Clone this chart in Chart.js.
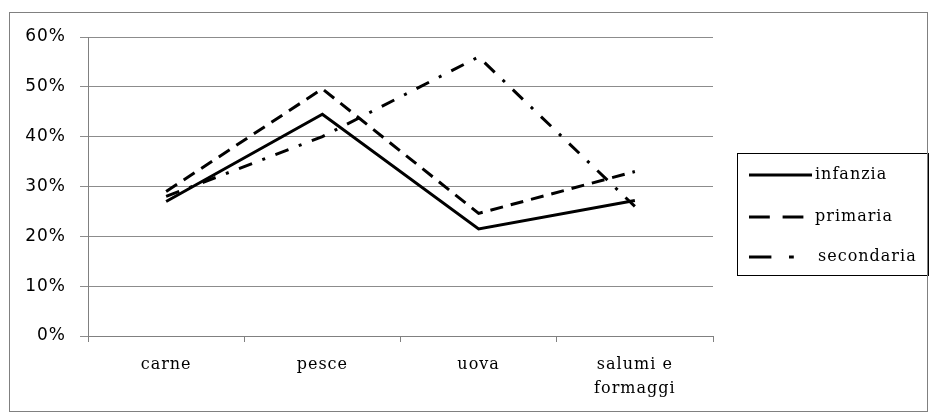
<!DOCTYPE html>
<html>
<head>
<meta charset="utf-8">
<script src="https://cdn.jsdelivr.net/npm/chart.js@4"></script>
<style>
    body { margin: 0; background: #fff; }
    #wrap { position: relative; width: 931px; height: 415px; }
    #frame { position: absolute; left: 9px; top: 12px; width: 919px; height: 400px; border: 1px solid #808080; box-sizing: border-box; pointer-events: none; }
</style>
</head>
<body>
<div id="wrap">
    <canvas id="chart" width="931" height="415"></canvas>
    <div id="frame"></div>
</div>
<script>
const categories = ['carne', 'pesce', 'uova', ['salumi e', 'formaggi']];
const infanzia = [27, 44.5, 21.5, 27.2];
const primaria = [29, 49.6, 24.6, 33];
const secondaria = [28, 40, 56, 26];
const yTicks = [0, 10, 20, 30, 40, 50, 60];

// the text in the picture is spaced out a bit wider than normal
const spacing = {
    id: 'spacing',
    beforeLayout(chart) { chart.ctx.letterSpacing = '1px'; },
    beforeDraw(chart) { chart.ctx.letterSpacing = '1px'; }
};

// legend drawn by hand so it looks like the boxed one in the picture
const boxLegend = {
    id: 'boxLegend',
    afterDraw(chart) {
        const ctx = chart.ctx;
        const x = 737, y = 153, w = 191, h = 122;
        ctx.save();
        ctx.strokeStyle = '#000';
        ctx.lineWidth = 1;
        ctx.strokeRect(x + 0.5, y + 0.5, w, h);
        ctx.font = '16px "DejaVu Serif"';
        ctx.letterSpacing = '1px';
        ctx.textBaseline = 'middle';
        const rows = [175, 217, 257];
        chart.data.datasets.forEach((ds, i) => {
            const ry = rows[i];
            ctx.beginPath();
            ctx.lineWidth = 3;
            ctx.strokeStyle = ds.borderColor;
            ctx.setLineDash((ds.borderDash || []).map(v => v * 1.6));
            ctx.moveTo(749, ry);
            ctx.lineTo(i === 0 ? 812 : 806, ry);
            ctx.stroke();
            ctx.setLineDash([]);
            ctx.fillStyle = '#000';
            ctx.fillText(ds.label, i === 2 ? 818 : 815, ry);
        });
        ctx.restore();
    }
};

const ctx = document.getElementById('chart').getContext('2d');
new Chart(ctx, {
    type: 'line',
    data: {
        labels: categories,
        datasets: [
            { label: 'infanzia', data: infanzia, borderColor: '#000', borderWidth: 3, borderDash: [] },
            { label: 'primaria', data: primaria, borderColor: '#000', borderWidth: 3, borderDash: [13, 8] },
            { label: 'secondaria', data: secondaria, borderColor: '#000', borderWidth: 3, borderDash: [14, 11, 3, 11] }
        ]
    },
    options: {
        responsive: false,
        animation: false,
        elements: { point: { radius: 0 }, line: { tension: 0, borderCapStyle: 'butt' } },
        layout: { padding: { left: 10, top: 37, right: 218, bottom: 0 } },
        plugins: { legend: { display: false }, tooltip: { enabled: false } },
        scales: {
            x: {
                offset: true,
                grid: { offset: true, drawOnChartArea: false, drawTicks: true, tickLength: 6, color: '#808080' },
                border: { color: '#808080', width: 1 },
                ticks: { color: '#000', font: { family: '"DejaVu Serif"', size: 16, lineHeight: 1.5 }, padding: 11, maxRotation: 0 },
                afterFit(scale) { scale.height = 79; }
            },
            y: {
                min: 0,
                max: 60,
                afterBuildTicks(scale) { scale.ticks = yTicks.map(v => ({ value: v })); },
                grid: { color: '#8c8c8c', tickLength: 8 },
                border: { color: '#808080', width: 1 },
                ticks: {
                    color: '#000',
                    font: { family: '"DejaVu Sans"', size: 17 },
                    padding: 14,
                    callback: v => v + '%'
                },
                afterFit(scale) { scale.width = 78; }
            }
        }
    },
    plugins: [spacing, boxLegend]
});
</script>
</body>
</html>
